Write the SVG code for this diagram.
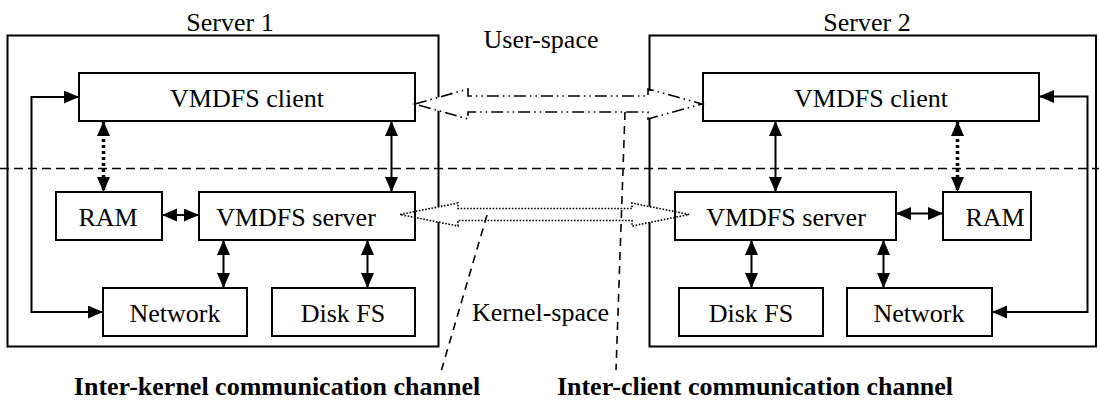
<svg xmlns="http://www.w3.org/2000/svg" width="1099" height="401" viewBox="0 0 1099 401">
<style>
  .srv { fill: none; stroke: #000; stroke-width: 2; }
  .box { fill: none; stroke: #000; stroke-width: 2; }
  .t { font-family: "Liberation Serif", "Times New Roman", serif; font-size: 26px; fill: #000; text-anchor: middle; }
  .tb { font-family: "Liberation Serif", "Times New Roman", serif; font-size: 26px; font-weight: bold; fill: #000; text-anchor: middle; }
  .ln { fill: none; stroke: #000; stroke-width: 2; }
  .dotv { fill: none; stroke: #000; stroke-width: 3.5; stroke-dasharray: 3 3; }
  .split { fill: none; stroke: #000; stroke-width: 1.6; stroke-dasharray: 9 5; }
  .lead { fill: none; stroke: #000; stroke-width: 1.6; stroke-dasharray: 8 6; }
  .dashdot { fill: #fff; stroke: #000; stroke-width: 1.6; stroke-dasharray: 12 4 1.5 4 1.5 4; }
  .dotted { fill: #fff; stroke: #000; stroke-width: 1.6; stroke-dasharray: 1.6 1.6; }
</style>
<defs>
  <marker id="ah" markerUnits="userSpaceOnUse" markerWidth="16" markerHeight="14" refX="15" refY="6.5" orient="auto-start-reverse">
    <path d="M0,0 L15,6.5 L0,13 z" fill="#000"/>
  </marker>
</defs>

<g id="server1">
  <rect class="srv" x="7.5" y="35.5" width="431" height="311"/>
  <text class="t" x="230" y="31">Server 1</text>
</g>
<g id="server2">
  <rect class="srv" x="649.5" y="35.5" width="446.5" height="311"/>
  <text class="t" x="867" y="31">Server 2</text>
</g>

<g id="space-labels">
  <line class="split" x1="0" y1="168.5" x2="1099" y2="168.5"/>
  <text class="t" x="541" y="48">User-space</text>
  <text class="t" x="540.5" y="321">Kernel-space</text>
</g>

<g id="channels">
  <polygon class="dashdot" points="415,104 468,89 468,96 648,96 648,89 702,104 648,119 648,112 468,112 468,119"/>
  <polygon class="dotted" points="400,214.5 458,203 458,208.5 632,208.5 632,203 689,214.5 632,226 632,220.5 458,220.5 458,226"/>
</g>

<g id="s1-client"><rect class="box" x="79" y="73" width="336" height="48"/><text class="t" x="247" y="107">VMDFS client</text></g>
<g id="s1-ram"><rect class="box" x="56" y="192" width="106" height="48"/><text class="t" x="108" y="226">RAM</text></g>
<g id="s1-server"><rect class="box" x="199" y="192" width="216" height="48"/><text class="t" x="296" y="226">VMDFS server</text></g>
<g id="s1-network"><rect class="box" x="103" y="288" width="144" height="48"/><text class="t" x="175" y="322">Network</text></g>
<g id="s1-disk"><rect class="box" x="272" y="288" width="143" height="48"/><text class="t" x="343" y="322">Disk FS</text></g>

<g id="s2-client"><rect class="box" x="703" y="73" width="336" height="48"/><text class="t" x="871" y="107">VMDFS client</text></g>
<g id="s2-server"><rect class="box" x="675" y="192" width="221" height="48"/><text class="t" x="786" y="226">VMDFS server</text></g>
<g id="s2-ram"><rect class="box" x="943" y="192" width="88" height="48"/><text class="t" x="995" y="226">RAM</text></g>
<g id="s2-disk"><rect class="box" x="679" y="288" width="144" height="48"/><text class="t" x="751" y="322">Disk FS</text></g>
<g id="s2-network"><rect class="box" x="847" y="288" width="145" height="48"/><text class="t" x="919" y="322">Network</text></g>

<g id="connectors">
  <line class="dotv" x1="103.5" y1="121" x2="103.5" y2="192" marker-start="url(#ah)" marker-end="url(#ah)"/>
  <line class="ln" x1="391.5" y1="121" x2="391.5" y2="192" marker-start="url(#ah)" marker-end="url(#ah)"/>
  <line class="ln" x1="162" y1="215" x2="199" y2="215" marker-start="url(#ah)" marker-end="url(#ah)"/>
  <line class="ln" x1="223.5" y1="240" x2="223.5" y2="288" marker-start="url(#ah)" marker-end="url(#ah)"/>
  <line class="ln" x1="367.5" y1="240" x2="367.5" y2="288" marker-start="url(#ah)" marker-end="url(#ah)"/>
  <polyline class="ln" points="103,312 31.5,312 31.5,97 79,97" marker-start="url(#ah)" marker-end="url(#ah)"/>

  <line class="ln" x1="775.5" y1="121" x2="775.5" y2="192" marker-start="url(#ah)" marker-end="url(#ah)"/>
  <line class="dotv" x1="957.5" y1="121" x2="957.5" y2="192" marker-start="url(#ah)" marker-end="url(#ah)"/>
  <line class="ln" x1="896" y1="213.5" x2="943" y2="213.5" marker-start="url(#ah)" marker-end="url(#ah)"/>
  <line class="ln" x1="751.5" y1="240" x2="751.5" y2="288" marker-start="url(#ah)" marker-end="url(#ah)"/>
  <line class="ln" x1="883.5" y1="240" x2="883.5" y2="288" marker-start="url(#ah)" marker-end="url(#ah)"/>
  <polyline class="ln" points="1039,96.5 1087.5,96.5 1087.5,312 992,312" marker-start="url(#ah)" marker-end="url(#ah)"/>

  <line class="lead" x1="487" y1="215" x2="441.5" y2="370"/>
  <line class="lead" x1="625" y1="112" x2="616" y2="370"/>
</g>

<g id="channel-labels">
  <text class="tb" x="277" y="395">Inter-kernel communication channel</text>
  <text class="tb" x="755" y="395">Inter-client communication channel</text>
</g>
</svg>
